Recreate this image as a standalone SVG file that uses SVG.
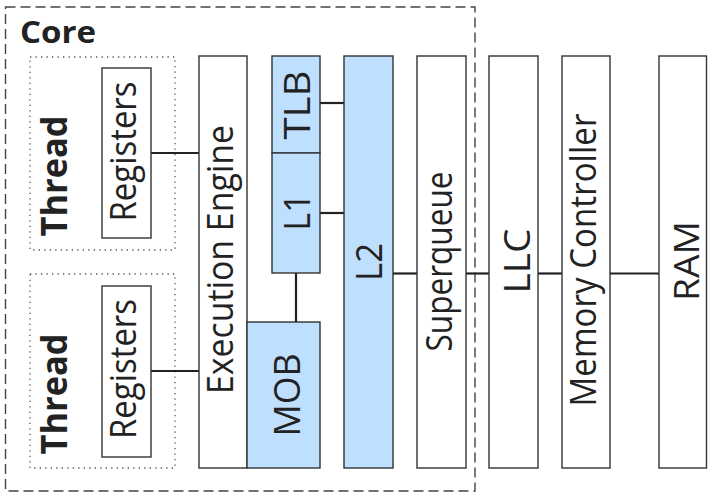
<svg xmlns="http://www.w3.org/2000/svg" width="708" height="496" viewBox="0 0 708 496">
<style>
.box{fill:#fff;stroke:#333;stroke-width:1.4}
.blue{fill:#bfdfff;stroke:#333;stroke-width:1.4}
.lbl{font-family:"Open Sans","Liberation Sans",Arial,sans-serif;font-size:36px;fill:#222;text-anchor:middle}
.bold{font-weight:bold}
#connectors line{stroke:#222;stroke-width:2.2}
</style>
<rect width="708" height="496" fill="#fff"/>
<g id="core">
<rect x="5.5" y="7" width="469.5" height="484" fill="none" stroke="#444" stroke-width="1.4" stroke-dasharray="10,5"/>
<text x="20" y="43" class="lbl bold" style="font-size:31px;text-anchor:start" textLength="76" lengthAdjust="spacingAndGlyphs">Core</text>
</g>
<g id="thread1">
<rect x="30" y="57" width="145" height="193" fill="none" stroke="#555" stroke-width="1.3" stroke-dasharray="1.3,4.2"/>
<text class="lbl bold" transform="translate(67,176) rotate(-90)" textLength="121" lengthAdjust="spacingAndGlyphs">Thread</text>
</g>
<g id="thread2">
<rect x="30" y="274" width="145" height="194" fill="none" stroke="#555" stroke-width="1.3" stroke-dasharray="1.3,4.2"/>
<text class="lbl bold" transform="translate(67,394) rotate(-90)" textLength="121" lengthAdjust="spacingAndGlyphs">Thread</text>
</g>
<g id="connectors">
<line x1="151" y1="153" x2="199" y2="153"/>
<line x1="151" y1="371" x2="199" y2="371"/>
<line x1="296" y1="273" x2="296" y2="322"/>
<line x1="320" y1="103" x2="344" y2="103"/>
<line x1="320" y1="213" x2="344" y2="213"/>
<line x1="393" y1="273.5" x2="417" y2="273.5"/>
<line x1="466" y1="273.5" x2="489" y2="273.5"/>
<line x1="538" y1="273.5" x2="562" y2="273.5"/>
<line x1="610" y1="273.5" x2="659" y2="273.5"/>
</g>
<g id="registers1">
<rect class="box" x="102" y="68" width="49" height="170"/>
<text class="lbl" transform="translate(136,151.5) rotate(-90)" textLength="140" lengthAdjust="spacingAndGlyphs">Registers</text>
</g>
<g id="registers2">
<rect class="box" x="102" y="286" width="49" height="171"/>
<text class="lbl" transform="translate(136,369) rotate(-90)" textLength="140" lengthAdjust="spacingAndGlyphs">Registers</text>
</g>
<g id="execution-engine">
<rect class="box" x="199" y="56" width="48" height="412"/>
<text class="lbl" transform="translate(233,259.5) rotate(-90)" textLength="269" lengthAdjust="spacingAndGlyphs">Execution Engine</text>
</g>
<g id="tlb">
<rect class="blue" x="272" y="56" width="48" height="97"/>
<text class="lbl" transform="translate(310,105) rotate(-90)" textLength="69" lengthAdjust="spacingAndGlyphs">TLB</text>
</g>
<g id="l1">
<rect class="blue" x="272" y="153" width="48" height="120"/>
<text class="lbl" transform="translate(310,212) rotate(-90)" textLength="37" lengthAdjust="spacingAndGlyphs">L1</text>
</g>
<g id="mob">
<rect class="blue" x="247" y="322" width="73" height="146"/>
<text class="lbl" transform="translate(300,395) rotate(-90)" textLength="83" lengthAdjust="spacingAndGlyphs">MOB</text>
</g>
<g id="l2">
<rect class="blue" x="344" y="56" width="49" height="412"/>
<text class="lbl" transform="translate(382,262) rotate(-90)" textLength="38" lengthAdjust="spacingAndGlyphs">L2</text>
</g>
<g id="superqueue">
<rect class="box" x="417" y="56" width="49" height="412"/>
<text class="lbl" transform="translate(452,261.5) rotate(-90)" textLength="180" lengthAdjust="spacingAndGlyphs">Superqueue</text>
</g>
<g id="llc">
<rect class="box" x="489" y="56" width="49" height="412"/>
<text class="lbl" transform="translate(530,261) rotate(-90)" textLength="65" lengthAdjust="spacingAndGlyphs">LLC</text>
</g>
<g id="memory-controller">
<rect class="box" x="562" y="56" width="48" height="412"/>
<text class="lbl" transform="translate(596,260) rotate(-90)" textLength="293" lengthAdjust="spacingAndGlyphs">Memory Controller</text>
</g>
<g id="ram">
<rect class="box" x="659" y="56" width="47.5" height="412"/>
<text class="lbl" style="font-size:34px" transform="translate(698.5,261) rotate(-90)" textLength="80" lengthAdjust="spacingAndGlyphs">RAM</text>
</g>
</svg>
